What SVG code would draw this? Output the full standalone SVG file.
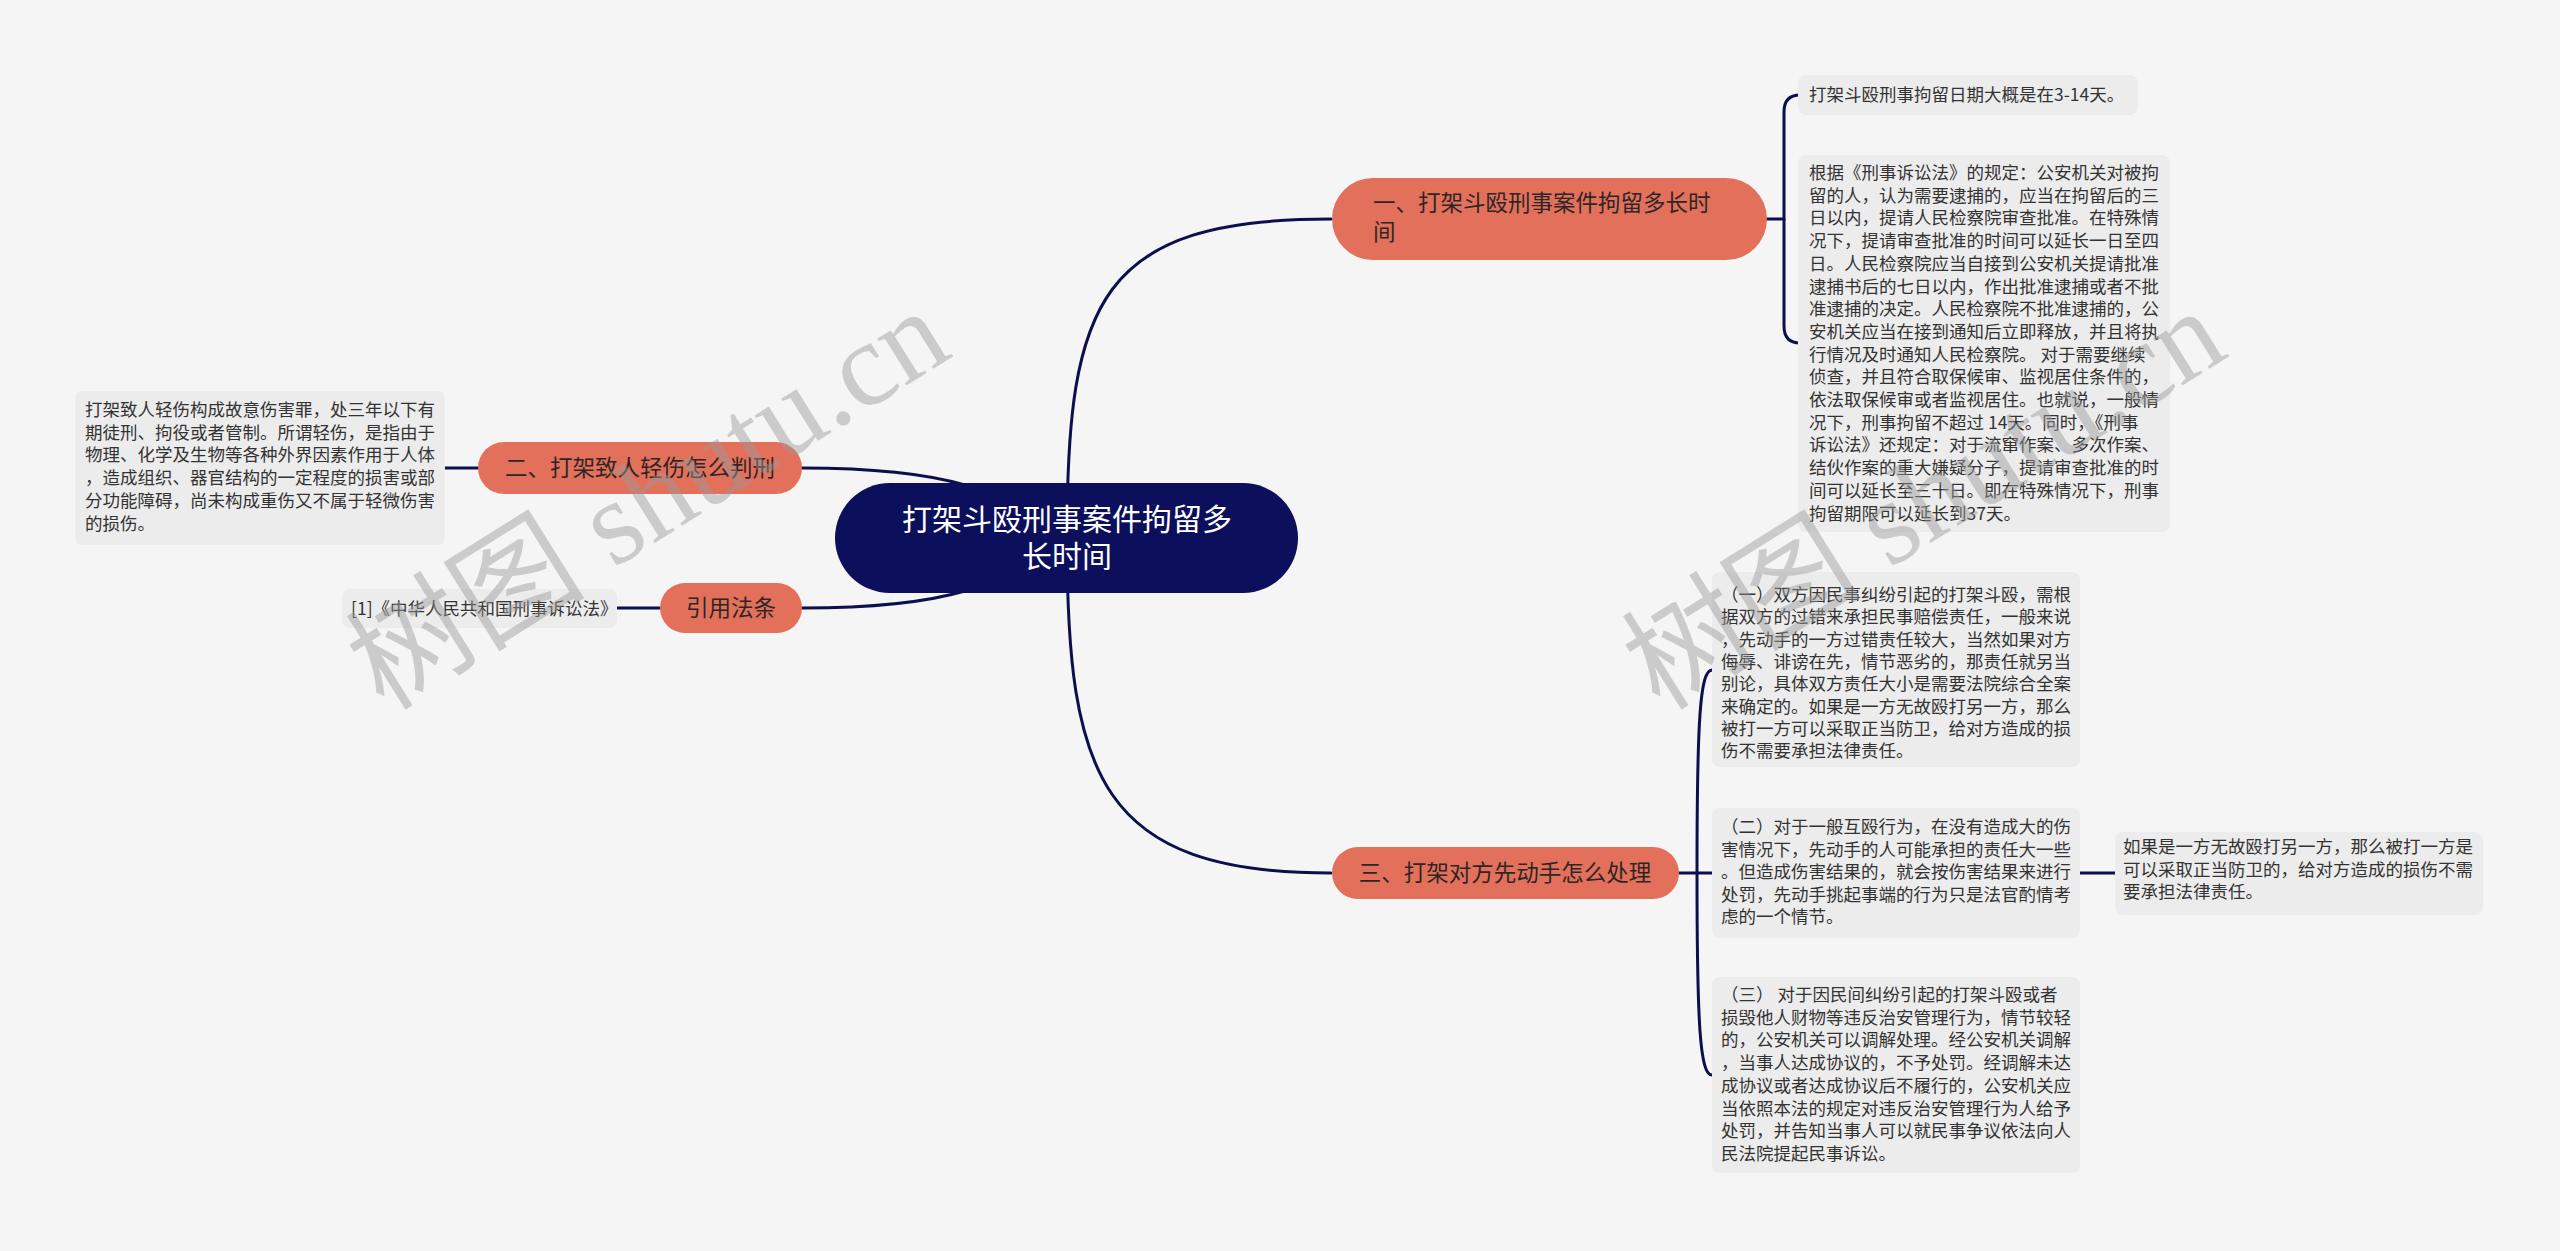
<svg xmlns="http://www.w3.org/2000/svg" width="2560" height="1251" viewBox="0 0 2560 1251">
<style>
.bg{fill:#f5f5f5}
.conn{fill:none;stroke:#0b0f4e;stroke-width:3;stroke-linecap:round}
.root{fill:#0b0f5c}
.branch{fill:#e3705a}
.box{fill:#ececec}
.rt{font-family:'Noto Sans CJK SC','Noto Sans',sans-serif;font-size:30px;fill:#ffffff;text-anchor:middle}
.bt{font-family:'Noto Sans CJK SC','Noto Sans',sans-serif;font-size:22.5px;fill:#2e2626}
.lt{font-family:'Noto Sans CJK SC','Noto Sans',sans-serif;font-size:17.5px;fill:#333333}
.wm{font-family:'Liberation Serif','Noto Sans CJK SC',serif;font-size:120px;fill:#9a9a9a;opacity:0.45}
</style>
<rect class="bg" x="0" y="0" width="2560" height="1251"/>

<g id="connectors">
  <path class="conn" d="M1067,538 C1067,300 1100,219 1331,219"/>
  <path class="conn" d="M1067,538 C1067,776 1100,873 1331,873"/>
  <path class="conn" d="M1067,538 C1000,490 950,468 802,468"/>
  <path class="conn" d="M1067,538 C1000,586 950,608 802,608"/>
  <path class="conn" d="M1767,219 H1784 V112 Q1784,95 1800,95"/>
  <path class="conn" d="M1784,219 V326 Q1784,343 1800,343"/>
  <path class="conn" d="M478,468 H445"/>
  <path class="conn" d="M660,608 H617"/>
  <path class="conn" d="M1679,873 H1697 C1697,720 1700,670 1712,670"/>
  <path class="conn" d="M1697,873 H1712"/>
  <path class="conn" d="M1697,873 C1697,1025 1700,1075 1712,1075"/>
  <path class="conn" d="M2080,873 H2115"/>
</g>

<g id="root">
  <rect class="root" x="835" y="483" width="463" height="110" rx="55"/>
  <text class="rt" x="1067" y="530">打架斗殴刑事案件拘留多</text>
  <text class="rt" x="1067" y="567">长时间</text>
</g>

<g id="b1">
  <rect class="branch" x="1332" y="178" width="435" height="82" rx="41"/>
  <text class="bt" x="1373" y="211">一、打架斗殴刑事案件拘留多长时</text>
  <text class="bt" x="1373" y="240">间</text>
</g>

<g id="b1c1">
  <rect class="box" x="1798" y="75" width="340" height="40" rx="8"/>
  <text class="lt" x="1809" y="101">打架斗殴刑事拘留日期大概是在3-14天。</text>
</g>

<g id="b1c2">
  <rect class="box" x="1798" y="155" width="372" height="377" rx="8"/>
  <text class="lt">
    <tspan x="1809" y="179">根据《刑事诉讼法》的规定：公安机关对被拘</tspan>
    <tspan x="1809" y="201.7">留的人，认为需要逮捕的，应当在拘留后的三</tspan>
    <tspan x="1809" y="224.4">日以内，提请人民检察院审查批准。在特殊情</tspan>
    <tspan x="1809" y="247.1">况下，提请审查批准的时间可以延长一日至四</tspan>
    <tspan x="1809" y="269.8">日。人民检察院应当自接到公安机关提请批准</tspan>
    <tspan x="1809" y="292.5">逮捕书后的七日以内，作出批准逮捕或者不批</tspan>
    <tspan x="1809" y="315.2">准逮捕的决定。人民检察院不批准逮捕的，公</tspan>
    <tspan x="1809" y="337.9">安机关应当在接到通知后立即释放，并且将执</tspan>
    <tspan x="1809" y="360.6">行情况及时通知人民检察院。 对于需要继续</tspan>
    <tspan x="1809" y="383.3">侦查，并且符合取保候审、监视居住条件的，</tspan>
    <tspan x="1809" y="406">依法取保候审或者监视居住。也就说，一般情</tspan>
    <tspan x="1809" y="428.7">况下，刑事拘留不超过 14天。同时，《刑事</tspan>
    <tspan x="1809" y="451.4">诉讼法》还规定：对于流窜作案、多次作案、</tspan>
    <tspan x="1809" y="474.1">结伙作案的重大嫌疑分子，提请审查批准的时</tspan>
    <tspan x="1809" y="496.8">间可以延长至三十日。即在特殊情况下，刑事</tspan>
    <tspan x="1809" y="519.5">拘留期限可以延长到37天。</tspan>
  </text>
</g>

<g id="b2">
  <rect class="branch" x="478" y="442" width="324" height="52" rx="26"/>
  <text class="bt" x="640" y="476" text-anchor="middle">二、打架致人轻伤怎么判刑</text>
</g>

<g id="b2c1">
  <rect class="box" x="75" y="391" width="370" height="154" rx="8"/>
  <text class="lt">
    <tspan x="85" y="416">打架致人轻伤构成故意伤害罪，处三年以下有</tspan>
    <tspan x="85" y="438.7">期徒刑、拘役或者管制。所谓轻伤，是指由于</tspan>
    <tspan x="85" y="461.4">物理、化学及生物等各种外界因素作用于人体</tspan>
    <tspan x="85" y="484.1">，造成组织、器官结构的一定程度的损害或部</tspan>
    <tspan x="85" y="506.8">分功能障碍，尚未构成重伤又不属于轻微伤害</tspan>
    <tspan x="85" y="529.5">的损伤。</tspan>
  </text>
</g>

<g id="b4">
  <rect class="branch" x="660" y="583" width="142" height="50" rx="25"/>
  <text class="bt" x="731" y="616" text-anchor="middle">引用法条</text>
</g>

<g id="b4c1">
  <rect class="box" x="342" y="589" width="275" height="39" rx="8"/>
  <text class="lt" x="351" y="615">[1]《中华人民共和国刑事诉讼法》</text>
</g>

<g id="b3">
  <rect class="branch" x="1332" y="847" width="347" height="52" rx="26"/>
  <text class="bt" x="1505" y="881" text-anchor="middle">三、打架对方先动手怎么处理</text>
</g>

<g id="b3c1">
  <rect class="box" x="1712" y="572" width="368" height="195" rx="8"/>
  <text class="lt">
    <tspan x="1721" y="601">（一）双方因民事纠纷引起的打架斗殴，需根</tspan>
    <tspan x="1721" y="623.3">据双方的过错来承担民事赔偿责任，一般来说</tspan>
    <tspan x="1721" y="645.6">，先动手的一方过错责任较大，当然如果对方</tspan>
    <tspan x="1721" y="667.9">侮辱、诽谤在先，情节恶劣的，那责任就另当</tspan>
    <tspan x="1721" y="690.2">别论，具体双方责任大小是需要法院综合全案</tspan>
    <tspan x="1721" y="712.5">来确定的。如果是一方无故殴打另一方，那么</tspan>
    <tspan x="1721" y="734.8">被打一方可以采取正当防卫，给对方造成的损</tspan>
    <tspan x="1721" y="757.1">伤不需要承担法律责任。</tspan>
  </text>
</g>

<g id="b3c2">
  <rect class="box" x="1712" y="808" width="368" height="130" rx="8"/>
  <text class="lt">
    <tspan x="1721" y="833">（二）对于一般互殴行为，在没有造成大的伤</tspan>
    <tspan x="1721" y="855.5">害情况下，先动手的人可能承担的责任大一些</tspan>
    <tspan x="1721" y="878">。但造成伤害结果的，就会按伤害结果来进行</tspan>
    <tspan x="1721" y="900.5">处罚，先动手挑起事端的行为只是法官酌情考</tspan>
    <tspan x="1721" y="923">虑的一个情节。</tspan>
  </text>
</g>

<g id="b3c2c1">
  <rect class="box" x="2115" y="832" width="368" height="83" rx="8"/>
  <text class="lt">
    <tspan x="2123" y="853">如果是一方无故殴打另一方，那么被打一方是</tspan>
    <tspan x="2123" y="875.5">可以采取正当防卫的，给对方造成的损伤不需</tspan>
    <tspan x="2123" y="898">要承担法律责任。</tspan>
  </text>
</g>

<g id="b3c3">
  <rect class="box" x="1712" y="977" width="368" height="196" rx="8"/>
  <text class="lt">
    <tspan x="1721" y="1001">（三） 对于因民间纠纷引起的打架斗殴或者</tspan>
    <tspan x="1721" y="1023.7">损毁他人财物等违反治安管理行为，情节较轻</tspan>
    <tspan x="1721" y="1046.4">的，公安机关可以调解处理。经公安机关调解</tspan>
    <tspan x="1721" y="1069.1">，当事人达成协议的，不予处罚。经调解未达</tspan>
    <tspan x="1721" y="1091.8">成协议或者达成协议后不履行的，公安机关应</tspan>
    <tspan x="1721" y="1114.5">当依照本法的规定对违反治安管理行为人给予</tspan>
    <tspan x="1721" y="1137.2">处罚，并告知当事人可以就民事争议依法向人</tspan>
    <tspan x="1721" y="1159.9">民法院提起民事诉讼。</tspan>
  </text>
</g>

<g id="watermarks">
  <text class="wm" transform="translate(384,712) rotate(-32)">树图 shutu.cn</text>
  <text class="wm" transform="translate(1660,712) rotate(-32)">树图 shutu.cn</text>
</g>
</svg>
